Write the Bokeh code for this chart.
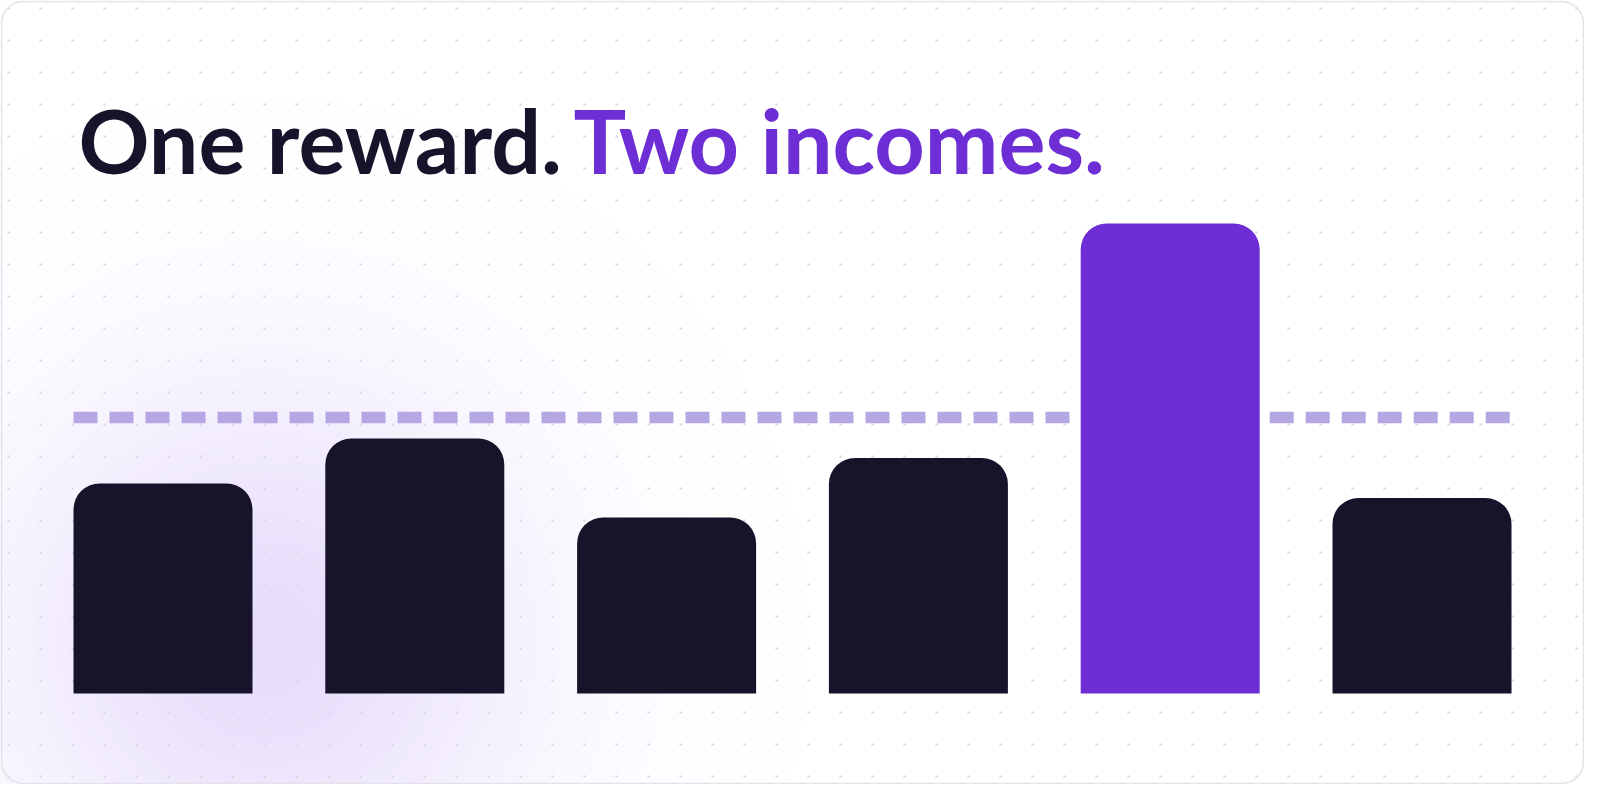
import numpy as np
from bokeh.plotting import figure
from bokeh.models import Range1d, Label, ColumnDataSource
from bokeh.embed import file_html
from bokeh.resources import INLINE

# ---------------- data ----------------
periods = ["P1", "P2", "P3", "P4", "P5", "P6"]
values = [42.0, 51.0, 35.2, 47.1, 94.0, 39.1]
threshold = 55.2
title_left = "One reward."
title_right = "Two incomes."

# ---------------- styling / layout ----------------
W, H = 1584, 784
PERIOD = 251.8       # px between bar centres
X0_PX = 162.5        # px of first bar centre
BASE_PX = 693.0      # px (from top) of the bar baseline
PX_PER_UNIT = 5.0    # px per value unit
BAR_W_PX = 179.0
DARK = "#16132b"
PURPLE = "#6d2ed6"
DASH = "#b4a7e4"
GLOW_CENTER = (231, 221, 251)

x0 = -X0_PX / PERIOD
y1 = BASE_PX / PX_PER_UNIT


def px_x(px):
    return x0 + px / PERIOD


def px_y(py):
    return y1 - py / PX_PER_UNIT


p = figure(width=W, height=H, output_backend="svg", toolbar_location=None,
           x_range=Range1d(x0, (W - X0_PX) / PERIOD),
           y_range=Range1d(-(H - BASE_PX) / PX_PER_UNIT, y1),
           min_border=0, min_border_left=0, min_border_right=0,
           min_border_top=0, min_border_bottom=0)
p.axis.visible = False
p.grid.visible = False
p.outline_line_color = None
p.background_fill_color = "white"
p.border_fill_color = "white"

# soft purple glow (bottom-left): opaque concentric discs, outer first
gx, gy = px_x(265), px_y(640)
radii = np.linspace(560, 6, 70)
glow_colors = []
for r in radii:
    f = np.exp(-(r / 265.0) ** 2)
    c = [round(255 - (255 - g) * f) for g in GLOW_CENTER]
    glow_colors.append("#%02x%02x%02x" % tuple(c))
p.scatter(x=[gx] * len(radii), y=[gy] * len(radii), size=list(2 * radii),
          marker="circle", fill_color=glow_colors, line_color=None)

# dot grid
dx = np.arange(8, W, 32)
dy = np.arange(8, H, 32)
DX, DY = np.meshgrid(dx, dy)
p.scatter(x=px_x(DX.ravel()), y=px_y(DY.ravel()), size=2.5, marker="circle",
          fill_color="#d9d8e2", line_color=None)

# card outline
p.rect(x=[px_x(W / 2)], y=[px_y(H / 2)], width=(W - 2) / PERIOD, height=(H - 2) / PX_PER_UNIT,
       fill_color=None, line_color="#e2e2e8", line_width=1.5, border_radius=22)

# bars
n = len(values)
xs = list(range(n))
hi = int(np.argmax(values))
colors = [PURPLE if i == hi else DARK for i in range(n)]
bw = BAR_W_PX / PERIOD
src = ColumnDataSource(dict(x=xs, top=values, color=colors, period=periods))

# dashed threshold line, interrupted around the highlighted bar
gap = 10 / PERIOD
segs_x0 = [xs[0] - bw / 2, xs[hi] + bw / 2 + gap]
segs_x1 = [xs[hi] - bw / 2 - gap, xs[-1] + bw / 2]
p.segment(x0=segs_x0, y0=[threshold] * 2, x1=segs_x1, y1=[threshold] * 2,
          line_color=DASH, line_width=11.5, line_dash="24 12", line_cap="butt")

p.vbar(x="x", top="top", bottom=0, width=bw, color="color", source=src,
       line_color=None, border_radius=(26, 26, 0, 0))

# title
base_from_bottom = H - 167 + 28
p.add_layout(Label(x=78, y=base_from_bottom, x_units="screen", y_units="screen",
                   text=title_left, text_font="Lato", text_font_style="bold",
                   text_font_size="88px", text_color=DARK, text_baseline="alphabetic"))
p.add_layout(Label(x=573, y=base_from_bottom, x_units="screen", y_units="screen",
                   text=title_right, text_font="Lato", text_font_style="bold",
                   text_font_size="88px", text_color=PURPLE, text_baseline="alphabetic"))

open("out.html", "w").write(file_html(p, INLINE))
